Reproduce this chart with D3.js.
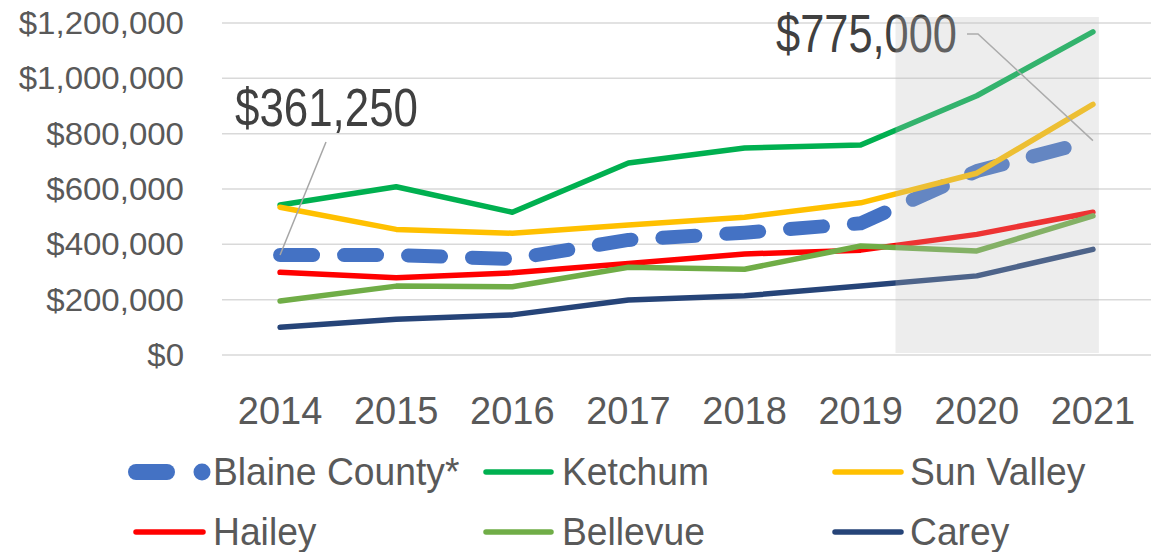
<!DOCTYPE html>
<html>
<head>
<meta charset="utf-8">
<script src="https://cdn.jsdelivr.net/npm/d3@7"></script>
<style>
  html,body{margin:0;padding:0;background:#fff;}
  svg{display:block;font-family:"Liberation Sans",Arial,sans-serif;}
</style>
</head>
<body>
<div id="chart"></div>
<script>
/* Median home price by city, 2014-2021 */
var years=[2014,2015,2016,2017,2018,2019,2020,2021];
var yTicks=[0,200000,400000,600000,800000,1000000,1200000];

var blaine   =[361250,361000,347000,416000,442000,476000,665000,775000];
var ketchum  =[542000,608000,516000,694000,748000,759000,937000,1168000];
var sunValley=[534000,454000,440000,470000,498000,550000,657000,906000];
var hailey   =[299000,279000,297000,331000,365000,379000,436000,516000];
var bellevue =[195000,249000,247000,317000,310000,394000,376000,503000];
var carey    =[100000,129000,145000,199000,214000,249000,286000,382000];

var seriesNames=["Blaine County*","Ketchum","Sun Valley","Hailey","Bellevue","Carey"];
var seriesVals=[blaine,ketchum,sunValley,hailey,bellevue,carey];
var seriesCols=["#4472C4","#00B050","#FFC000","#FF0000","#70AD47","#264478"];

var W=1156,H=552;
var svg=d3.select("#chart").append("svg").attr("width",W).attr("height",H);

var x=d3.scalePoint().domain(years).range([222,1151]).padding(0.5);
var y=d3.scaleLinear().domain([0,1200000]).range([355,23]);
var fmt=function(v){return "$"+d3.format(",")(v);};

// squeeze text horizontally (source font is narrower than anything installed)
function squeeze(sel,k){
    sel.each(function(){
        var w=this.getComputedTextLength();
        d3.select(this).attr("textLength",w*k).attr("lengthAdjust","spacingAndGlyphs");
    });
}

// gridlines
svg.append("g").selectAll("line").data(yTicks).enter().append("line")
    .attr("x1",222).attr("x2",1151).attr("y1",function(d){return y(d);}).attr("y2",function(d){return y(d);})
    .attr("stroke","#D9D9D9").attr("stroke-width",1.5);

// y labels
var yl=svg.append("g").selectAll("text").data(yTicks).enter().append("text")
    .attr("x",184).attr("y",function(d){return y(d)+11;}).attr("text-anchor","end")
    .attr("font-size",31).attr("fill","#595959").text(fmt);
squeeze(yl,1.065);

// x labels
svg.append("g").selectAll("text").data(years).enter().append("text")
    .attr("x",function(d){return x(d);}).attr("y",424).attr("text-anchor","middle")
    .attr("font-size",38).attr("fill","#595959").text(function(d){return d;});

var line=d3.line().x(function(d,i){return x(years[i]);}).y(function(d){return y(d);});

svg.append("g").selectAll("path").data(seriesVals).enter().append("path")
    .attr("d",line).attr("fill","none")
    .attr("stroke",function(d,i){return seriesCols[i];})
    .attr("stroke-width",function(d,i){return i===0?14:5.5;})
    .attr("stroke-dasharray",function(d,i){return i===0?"33,31":null;})
    .attr("stroke-linecap","round").attr("stroke-linejoin","round");

// annotations
var ann=svg.append("g");
ann.append("line").attr("x1",326).attr("y1",142).attr("x2",x(2014)).attr("y2",y(blaine[0]))
    .attr("stroke","#A6A6A6").attr("stroke-width",1.5);
ann.append("text").attr("x",235).attr("y",126).attr("font-size",53).attr("fill","#404040")
    .attr("textLength",183).attr("lengthAdjust","spacingAndGlyphs").text(fmt(blaine[0]));
ann.append("polyline").attr("points",[[967,34],[978,34],[x(2021),y(blaine[7])]].join(" "))
    .attr("fill","none").attr("stroke","#A6A6A6").attr("stroke-width",1.5);
ann.append("text").attr("x",776).attr("y",52).attr("font-size",53).attr("fill","#404040")
    .attr("textLength",181).attr("lengthAdjust","spacingAndGlyphs").text(fmt(blaine[7]));

// shaded forecast band on top
var step=x.step();
svg.append("rect").attr("x",x(2019)+0.3*step).attr("y",17)
    .attr("width",x(2021)+6-(x(2019)+0.3*step)).attr("height",y(0)-2-17)
    .attr("fill","rgb(189,189,189)").attr("fill-opacity",0.27);

// legend: [line start, line end, text start] per column
var legX=[[133,206,213],[483,554,562],[832,904,910]];
var lg=svg.append("g");
seriesNames.forEach(function(name,i){
    var col=i%3,row=Math.floor(i/3);
    var ly=472+row*60, lx=legX[col];
    if(i===0){
        lg.append("line").attr("x1",136).attr("x2",167).attr("y1",ly).attr("y2",ly)
            .attr("stroke",seriesCols[i]).attr("stroke-width",16).attr("stroke-linecap","round");
        lg.append("circle").attr("cx",202).attr("cy",ly).attr("r",8.5).attr("fill",seriesCols[i]);
    } else {
        lg.append("line").attr("x1",lx[0]+3).attr("x2",lx[1]-3).attr("y1",ly).attr("y2",ly)
            .attr("stroke",seriesCols[i]).attr("stroke-width",5.5).attr("stroke-linecap","round");
    }
    var t=lg.append("text").attr("x",lx[2]).attr("y",ly+13).attr("font-size",39).attr("fill","#595959").text(name);
    squeeze(t,0.955);
});
</script>
</body>
</html>
